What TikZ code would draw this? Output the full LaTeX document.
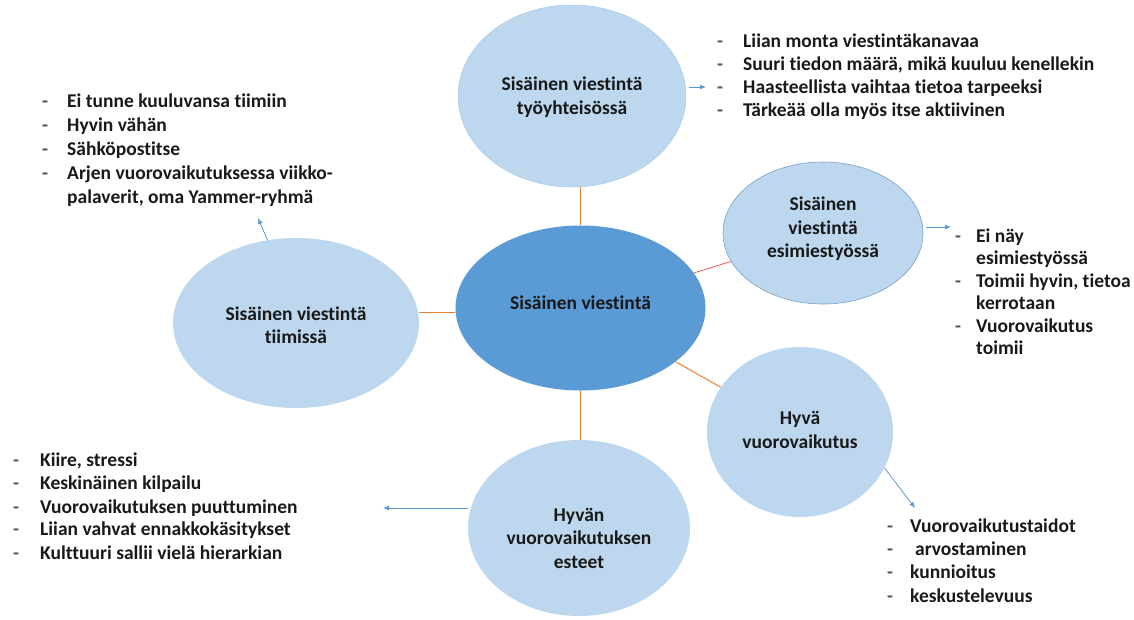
\documentclass[tikz,border=0pt]{standalone}
\usepackage{fontspec}
\setmainfont{Carlito}[Ligatures=NoCommon]
\usetikzlibrary{arrows.meta,shapes.geometric}
\definecolor{lb}{RGB}{189,215,238}
\definecolor{lbd}{RGB}{120,160,200}
\definecolor{db}{RGB}{91,155,213}
\definecolor{orl}{RGB}{237,125,49}
\definecolor{rl}{RGB}{235,90,90}
\definecolor{tx}{RGB}{25,25,25}
\tikzset{
  bub/.style={ellipse,fill=lb,draw=none,inner sep=0pt},
  lbl/.style={font=\bfseries\fontsize{19.5}{23.5}\selectfont,text=tx,align=center,inner sep=0pt},
  txt/.style={font=\bfseries\fontsize{19.5}{23}\selectfont,text=tx,anchor=base west,inner sep=0pt},
  dsh/.style={txt,text=tx!75},
  link/.style={draw=orl,line width=1pt},
  arr/.style={draw=db,line width=0.8pt,-{Latex[length=6pt,width=5pt]}}
}
\begin{document}
\begin{tikzpicture}[x=1pt,y=-1pt]
\useasboundingbox (0,0) rectangle (1134,619);
% bubbles
\node[bub,draw=lb!80!db,line width=0.5pt,minimum width=228pt,minimum height=182pt,
  label={[lbl,yshift=-1pt]center:{Sisäinen viestintä\\työyhteisössä}}] (top) at (572,96) {};
\node[bub,fill=db,minimum width=250pt,minimum height=165pt,
  label={[lbl,yshift=5pt]center:{Sisäinen viestintä}}] (center) at (580.5,308) {};
\node[bub,draw=lbd,line width=0.6pt,minimum width=200pt,minimum height=142pt,
  label={[lbl,yshift=4pt]center:{Sisäinen\\viestintä\\esimiestyössä}}] (esim) at (823,233) {};
\node[bub,minimum width=246pt,minimum height=170pt,
  label={[lbl,yshift=-2pt]center:{Sisäinen viestintä\\tiimissä}}] (tiim) at (296,323) {};
\node[bub,minimum width=186pt,minimum height=170pt,
  label={[lbl,yshift=2pt]center:{Hyvä\\vuorovaikutus}}] (hyva) at (800,432) {};
\node[bub,minimum width=222pt,minimum height=176pt,
  label={[lbl,yshift=-10pt]center:{Hyvän\\vuorovaikutuksen\\esteet}}] (este) at (579,528) {};
% links
\draw[link] (center.north) -- (center.north |- top.south);
\draw[link] (center.west) ++(0,4.5) coordinate (cw) -- (cw -| tiim.east);
\draw[draw=rl,line width=0.8pt] (center) -- (esim);
\draw[link] (center) -- (hyva);
\draw[link] (center.south) -- (center.south |- este.north);
% arrows
\coordinate (a1) at (706,87);
\coordinate (a2) at (951,227);
\coordinate (a3) at (258,218);
\coordinate (a4) at (383,508);
\coordinate (a5) at (915,508);
\draw[arr] (a1 -| top.east) ++(3,0) -- (a1);
\draw[arr] (a2 -| esim.east) ++(3,0) -- (a2);
\draw[arr] (tiim.109) -- (a3);
\draw[arr] (a4 -| este.west) -- (a4);
\draw[arr] (hyva.-23) -- (a5);
% lists
\foreach \y/\d/\t [count=\i] in {47/-/Liian monta viestintäkanavaa,
  70/-/{Suuri tiedon määrä, mikä kuuluu kenellekin},
  93/-/Haasteellista vaihtaa tietoa tarpeeksi,
  116/-/Tärkeää olla myös itse aktiivinen}{
  \node[dsh] (tr\i d) at (717,\y) {\d};
  \node[txt] (tr\i) at (743,\y) {\t};
}
\foreach \y/\d/\t [count=\i] in {107/-/Ei tunne kuuluvansa tiimiin,
  131/-/Hyvin vähän,
  155/-/Sähköpostitse,
  179/-/Arjen vuorovaikutuksessa viikko-,
  203//{palaverit, oma Yammer-ryhmä}}{
  \node[dsh] (tl\i d) at (42,\y) {\d};
  \node[txt] (tl\i) at (67,\y) {\t};
}
\foreach \y/\d/\t [count=\i] in {242/-/Ei näy,
  264.5//esimiestyössä,
  287/-/{Toimii hyvin, tietoa},
  309.5//kerrotaan,
  332/-/Vuorovaikutus,
  354.5//toimii}{
  \node[dsh] (rr\i d) at (955,\y) {\d};
  \node[txt] (rr\i) at (976,\y) {\t};
}
\foreach \y/\d/\t [count=\i] in {466/-/{Kiire, stressi},
  489/-/Keskinäinen kilpailu,
  513/-/Vuorovaikutuksen puuttuminen,
  535/-/Liian vahvat ennakkokäsitykset,
  559/-/Kulttuuri sallii vielä hierarkian}{
  \node[dsh] (bl\i d) at (13,\y) {\d};
  \node[txt] (bl\i) at (40,\y) {\t};
}
\foreach \y/\d/\t [count=\i] in {532/-/Vuorovaikutustaidot,
  555/-/{\hspace*{5pt}arvostaminen},
  578/-/kunnioitus,
  602/-/keskustelevuus}{
  \node[dsh] (br\i d) at (887,\y) {\d};
  \node[txt] (br\i) at (910,\y) {\t};
}
\end{tikzpicture}
\end{document}
